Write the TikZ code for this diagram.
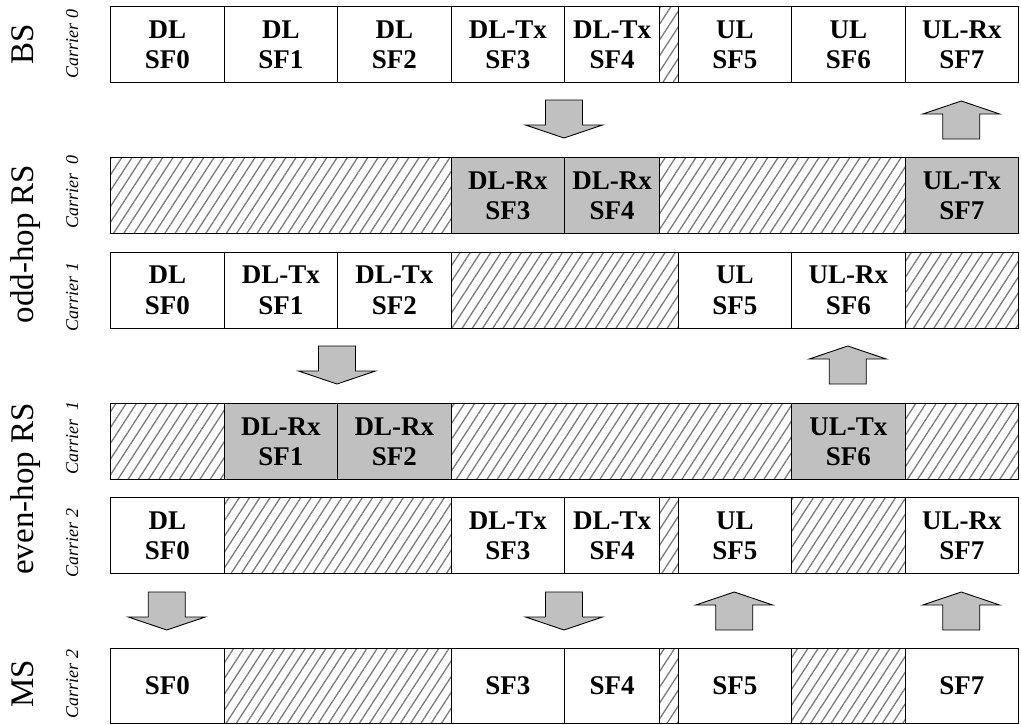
\documentclass[tikz,border=0pt]{standalone}
\usepackage{fontspec}
\setmainfont{Liberation Serif}
\usetikzlibrary{patterns.meta}
\definecolor{slotgray}{HTML}{C0C0C0}
\definecolor{hatchgray}{HTML}{7A7A7A}

\begin{document}
\begin{tikzpicture}[x=1pt,y=-1pt,
  framerow/.style={draw, line width=1.2pt, anchor=north west, minimum width=908pt,
    minimum height=76pt, inner sep=0pt,
    pattern={Lines[angle=57,distance=8.6pt,line width=1.3pt]}, pattern color=hatchgray},
  slot/.style={draw, line width=1.2pt, fill=white, anchor=north west, minimum height=76pt,
    minimum width=113.5pt, inner sep=0pt, align=center,
    font=\bfseries\fontsize{27}{30.5}\selectfont},
  rxtx/.style={slot, fill=slotgray},
  short/.style={minimum width=95pt},
  biglabel/.style={rotate=90, anchor=base, inner sep=0pt, font=\fontsize{33}{33}\selectfont},
  carrier/.style={rotate=90, anchor=base, inner sep=0pt, font=\itshape\fontsize{18}{18}\selectfont},
  arrowbody/.style={draw=black, line width=0.9pt, fill=slotgray, line join=miter},
  pics/downarrow/.style={code={
    \draw[arrowbody] (-18.5,0) -- (18.5,0) -- (18.5,25) -- (38.5,25) -- (0,38)
      -- (-38.5,25) -- (-18.5,25) -- cycle;}},
  pics/uparrow/.style={code={
    \draw[arrowbody] (-18.5,38) -- (18.5,38) -- (18.5,13) -- (38.5,13) -- (0,0)
      -- (-38.5,13) -- (-18.5,13) -- cycle;}}
]
\useasboundingbox (0,0) rectangle (1021,724);

% station labels
\node[biglabel] (lbs)   at (33,44)  {BS};
\node[biglabel] (lodd)  at (33,244) {odd-hop RS};
\node[biglabel] (leven) at (33,489) {even-hop RS};
\node[biglabel] (lms)   at (33,684) {MS};

% carrier labels
\node[carrier] (c1) at (78,44)  {Carrier 0};
\node[carrier] (c2) at (78,192) {Carrier\hspace{0.55em}0};
\node[carrier] (c3) at (78,297) {Carrier 1};
\node[carrier] (c4) at (78,438) {Carrier\hspace{0.55em}1};
\node[carrier] (c5) at (78,543) {Carrier 2};
\node[carrier] (c6) at (78,684) {Carrier 2};

% hatched row frames (idle subframes)
\node[framerow] (row1) at (110,6) {};
\node[framerow] (row2) at (110,157) {};
\node[framerow] (row3) at (110,251.5) {};
\node[framerow] (row4) at (110,403) {};
\node[framerow] (row5) at (110,497) {};
\node[framerow, minimum height=75pt] (row6) at (110,648) {};

% BS, carrier 0
\node[slot] (a0) at (110,6)   {DL\\SF0};
\node[slot] (a1) at (223.5,6) {DL\\SF1};
\node[slot] (a2) at (337,6)   {DL\\SF2};
\node[slot] (a3) at (450.5,6) {DL-Tx\\SF3};
\node[slot,short] (a4) at (564,6) {DL-Tx\\SF4};
\node[slot] (a5) at (677.5,6) {UL\\SF5};
\node[slot] (a6) at (791,6)   {UL\\SF6};
\node[slot] (a7) at (904.5,6) {UL-Rx\\SF7};

% odd-hop RS, carrier 0
\node[rxtx] (b3) at (450.5,157) {DL-Rx\\SF3};
\node[rxtx,short] (b4) at (564,157) {DL-Rx\\SF4};
\node[rxtx] (b7) at (904.5,157) {UL-Tx\\SF7};

% odd-hop RS, carrier 1
\node[slot] (c0s) at (110,251.5)   {DL\\SF0};
\node[slot] (c1s) at (223.5,251.5) {DL-Tx\\SF1};
\node[slot] (c2s) at (337,251.5)   {DL-Tx\\SF2};
\node[slot] (c5s) at (677.5,251.5) {UL\\SF5};
\node[slot] (c6s) at (791,251.5)   {UL-Rx\\SF6};

% even-hop RS, carrier 1
\node[rxtx] (d1) at (223.5,403) {DL-Rx\\SF1};
\node[rxtx] (d2) at (337,403)   {DL-Rx\\SF2};
\node[rxtx] (d6) at (791,403)   {UL-Tx\\SF6};

% even-hop RS, carrier 2
\node[slot] (e0) at (110,497)   {DL\\SF0};
\node[slot] (e3) at (450.5,497) {DL-Tx\\SF3};
\node[slot,short] (e4) at (564,497) {DL-Tx\\SF4};
\node[slot] (e5) at (677.5,497) {UL\\SF5};
\node[slot] (e7) at (904.5,497) {UL-Rx\\SF7};

% MS, carrier 2
\node[slot, minimum height=75pt] (f0) at (110,648)   {SF0};
\node[slot, minimum height=75pt] (f3) at (450.5,648) {SF3};
\node[slot, minimum height=75pt, short] (f4) at (564,648) {SF4};
\node[slot, minimum height=75pt] (f5) at (677.5,648) {SF5};
\node[slot, minimum height=75pt] (f7) at (904.5,648) {SF7};

% relay direction arrows
\pic at (564,100)     {downarrow};
\pic at (961.25,101)  {uparrow};
\pic at (337,346)     {downarrow};
\pic at (847.75,346)  {uparrow};
\pic at (166.75,592)  {downarrow};
\pic at (564,592)     {downarrow};
\pic at (734.25,592)  {uparrow};
\pic at (961.25,592)  {uparrow};
\end{tikzpicture}
\end{document}
